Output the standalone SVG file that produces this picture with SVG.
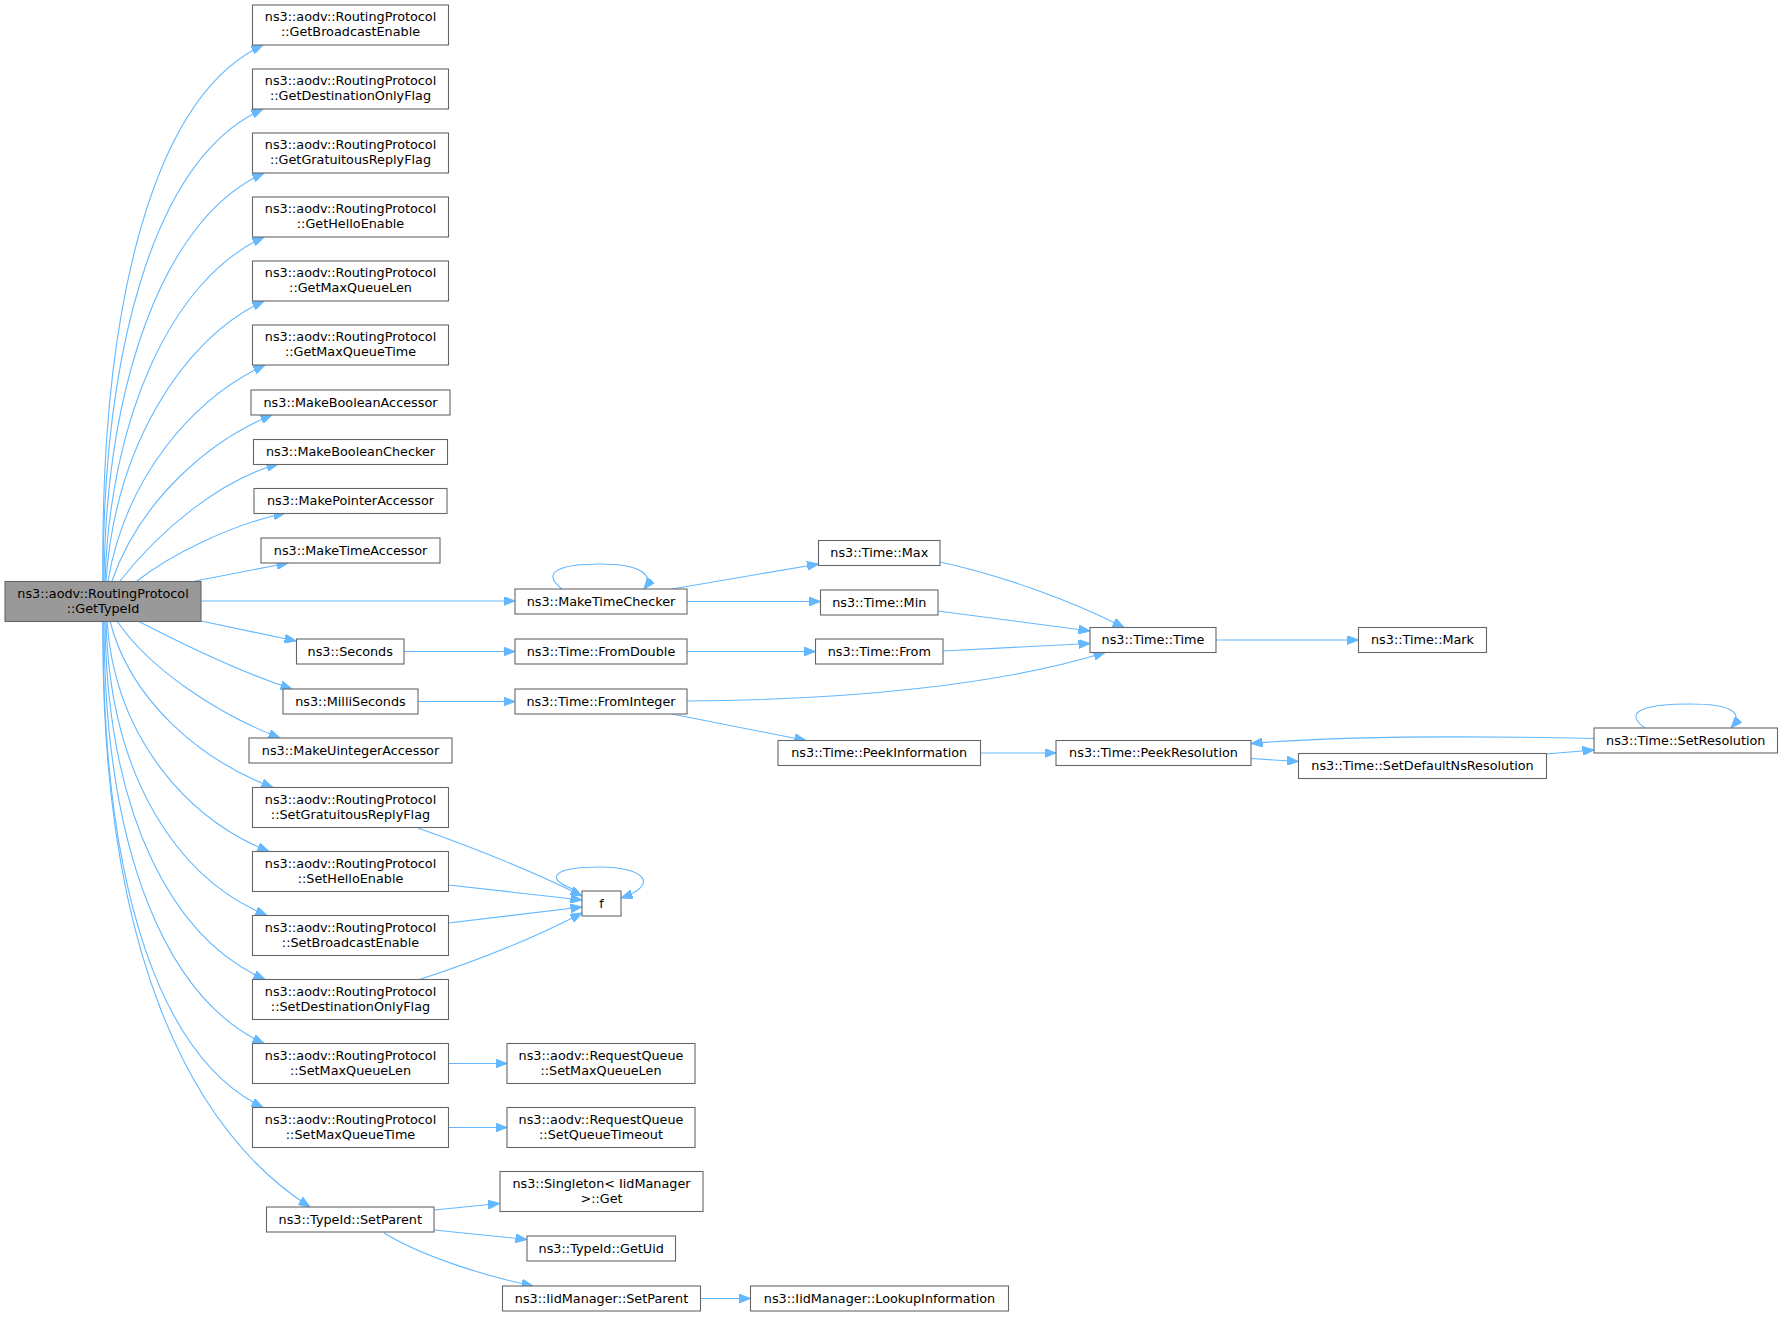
<svg xmlns="http://www.w3.org/2000/svg" width="1783" height="1317" viewBox="0 0 1783 1317">
<style>
.n rect{fill:#fff;stroke:#666;stroke-width:1.1}
.m rect{fill:#999;stroke:#666;stroke-width:1.1}
text{font-family:"DejaVu Sans","Liberation Sans",sans-serif;font-size:12.8px;text-anchor:middle;fill:#000}
#edges path{fill:none;stroke:#63b8ff;stroke-width:1.1;marker-end:url(#a)}
</style>
<defs>
<marker id="a" markerUnits="userSpaceOnUse" markerWidth="12" markerHeight="9" viewBox="0 0 12 9" refX="11.5" refY="4.5" orient="auto"><path d="M0,0 L11.5,4.5 L0,9 z" fill="#63b8ff" stroke="#63b8ff" stroke-width="1"/></marker>
</defs>
<rect width="1783" height="1317" fill="#fff"/>
<g id="edges">
<path d="M103,581 C100,330 145,100 263,45"/>
<path d="M103,581 C103,360 150,160 263,109"/>
<path d="M104,581 C106,390 160,220 264,173"/>
<path d="M105,581 C110,420 170,280 264,237"/>
<path d="M106,581 C115,450 180,340 264,301"/>
<path d="M108,581 C125,480 190,400 265,365"/>
<path d="M112,581 C140,500 210,440 272,415"/>
<path d="M120,581 C160,530 220,480 278,464"/>
<path d="M137,581 C170,555 230,525 285,513"/>
<path d="M195,581 L288,563"/>
<path d="M201,601 L515,601"/>
<path d="M201,621 L296,641"/>
<path d="M138,621 C190,648 240,672 292,689"/>
<path d="M117,621 C150,670 220,715 280,738"/>
<path d="M110,621 C130,700 200,760 273,787.5"/>
<path d="M107,621 C115,740 190,820 269,851.5"/>
<path d="M106,621 C110,780 180,880 267,915.5"/>
<path d="M105,621 C107,820 175,940 265,979.5"/>
<path d="M104,621 C104,860 170,1000 264,1043.5"/>
<path d="M103,621 C102,900 165,1060 263,1107.5"/>
<path d="M103,621 C100,950 190,1130 310,1207"/>
<path d="M404,651.5 L515,651.5"/>
<path d="M418,701.5 L515,701.5"/>
<path d="M562,589 C540,572 560,564 600,564 C640,564 655,575 644,589"/>
<path d="M672,589 L818.5,564"/>
<path d="M687,601.5 L820.5,601.5"/>
<path d="M687,651.5 L815.5,651.5"/>
<path d="M687,701 C850,700 1000,685 1105,652.5"/>
<path d="M672,714 L806,740.5"/>
<path d="M940,562 C1000,575 1070,600 1124,627.5"/>
<path d="M938,611 L1090,631"/>
<path d="M943,651 L1090,643.5"/>
<path d="M980.5,753 L1056,753"/>
<path d="M1216,640 L1358.5,640"/>
<path d="M1251,758.5 L1298.5,761.5"/>
<path d="M1546,754 L1594,750"/>
<path d="M1594,738.5 C1480,736 1340,736 1251,743.5"/>
<path d="M1645,728 C1620,710 1650,704 1690,704 C1730,704 1745,712 1731,728"/>
<path d="M418,828 C480,850 540,875 582,896"/>
<path d="M448.5,885 L582,900"/>
<path d="M448.5,923 L582,907"/>
<path d="M418,980 C480,960 540,935 582,913"/>
<path d="M578,891 C540,878 555,867 600,867 C645,867 660,885 621,898"/>
<path d="M448.5,1063.5 L507,1063.5"/>
<path d="M448.5,1127.5 L507,1127.5"/>
<path d="M434,1210 L499.5,1203.5"/>
<path d="M434,1230 L527,1239.5"/>
<path d="M384,1233 C420,1255 480,1275 533,1286"/>
<path d="M700.5,1298.5 L750.5,1298.5"/>
</g>
<g id="n0" class="m"><rect x="5" y="581.5" width="196" height="40"/><text x="103" y="597.5">ns3::aodv::RoutingProtocol</text><text x="103" y="612.5">::GetTypeId</text></g>
<g id="n1" class="n"><rect x="252.5" y="5" width="196" height="40"/><text x="350.5" y="21">ns3::aodv::RoutingProtocol</text><text x="350.5" y="36">::GetBroadcastEnable</text></g>
<g id="n2" class="n"><rect x="252.5" y="69" width="196" height="40"/><text x="350.5" y="85">ns3::aodv::RoutingProtocol</text><text x="350.5" y="100">::GetDestinationOnlyFlag</text></g>
<g id="n3" class="n"><rect x="252.5" y="133" width="196" height="40"/><text x="350.5" y="149">ns3::aodv::RoutingProtocol</text><text x="350.5" y="164">::GetGratuitousReplyFlag</text></g>
<g id="n4" class="n"><rect x="252.5" y="197" width="196" height="40"/><text x="350.5" y="213">ns3::aodv::RoutingProtocol</text><text x="350.5" y="228">::GetHelloEnable</text></g>
<g id="n5" class="n"><rect x="252.5" y="261" width="196" height="40"/><text x="350.5" y="277">ns3::aodv::RoutingProtocol</text><text x="350.5" y="292">::GetMaxQueueLen</text></g>
<g id="n6" class="n"><rect x="252.5" y="325" width="196" height="40"/><text x="350.5" y="341">ns3::aodv::RoutingProtocol</text><text x="350.5" y="356">::GetMaxQueueTime</text></g>
<g id="n7" class="n"><rect x="251" y="390" width="199" height="25"/><text x="350.5" y="406.5">ns3::MakeBooleanAccessor</text></g>
<g id="n8" class="n"><rect x="253.5" y="439.5" width="194" height="25"/><text x="350.5" y="456">ns3::MakeBooleanChecker</text></g>
<g id="n9" class="n"><rect x="254" y="488.5" width="193" height="25"/><text x="350.5" y="505">ns3::MakePointerAccessor</text></g>
<g id="n10" class="n"><rect x="261" y="538" width="179" height="25"/><text x="350.5" y="554.5">ns3::MakeTimeAccessor</text></g>
<g id="n11" class="n"><rect x="296.5" y="639" width="107.5" height="25"/><text x="350.25" y="655.5">ns3::Seconds</text></g>
<g id="n12" class="n"><rect x="283" y="689" width="135" height="25"/><text x="350.5" y="705.5">ns3::MilliSeconds</text></g>
<g id="n13" class="n"><rect x="249" y="738" width="203" height="25"/><text x="350.5" y="754.5">ns3::MakeUintegerAccessor</text></g>
<g id="n14" class="n"><rect x="252.5" y="787.5" width="196" height="40"/><text x="350.5" y="803.5">ns3::aodv::RoutingProtocol</text><text x="350.5" y="818.5">::SetGratuitousReplyFlag</text></g>
<g id="n15" class="n"><rect x="252.5" y="851.5" width="196" height="40"/><text x="350.5" y="867.5">ns3::aodv::RoutingProtocol</text><text x="350.5" y="882.5">::SetHelloEnable</text></g>
<g id="n16" class="n"><rect x="252.5" y="915.5" width="196" height="40"/><text x="350.5" y="931.5">ns3::aodv::RoutingProtocol</text><text x="350.5" y="946.5">::SetBroadcastEnable</text></g>
<g id="n17" class="n"><rect x="252.5" y="979.5" width="196" height="40"/><text x="350.5" y="995.5">ns3::aodv::RoutingProtocol</text><text x="350.5" y="1010.5">::SetDestinationOnlyFlag</text></g>
<g id="n18" class="n"><rect x="252.5" y="1043.5" width="196" height="40"/><text x="350.5" y="1059.5">ns3::aodv::RoutingProtocol</text><text x="350.5" y="1074.5">::SetMaxQueueLen</text></g>
<g id="n19" class="n"><rect x="252.5" y="1107.5" width="196" height="40"/><text x="350.5" y="1123.5">ns3::aodv::RoutingProtocol</text><text x="350.5" y="1138.5">::SetMaxQueueTime</text></g>
<g id="n20" class="n"><rect x="266.5" y="1207" width="167.5" height="25"/><text x="350.25" y="1223.5">ns3::TypeId::SetParent</text></g>
<g id="n21" class="n"><rect x="515" y="589" width="172" height="25"/><text x="601" y="605.5">ns3::MakeTimeChecker</text></g>
<g id="n22" class="n"><rect x="515" y="639" width="172" height="25"/><text x="601" y="655.5">ns3::Time::FromDouble</text></g>
<g id="n23" class="n"><rect x="515" y="689" width="172" height="25"/><text x="601" y="705.5">ns3::Time::FromInteger</text></g>
<g id="n24" class="n"><rect x="582" y="891" width="39" height="25"/><text x="601.5" y="907.5">f</text></g>
<g id="n25" class="n"><rect x="507" y="1043.5" width="188" height="40"/><text x="601" y="1059.5">ns3::aodv::RequestQueue</text><text x="601" y="1074.5">::SetMaxQueueLen</text></g>
<g id="n26" class="n"><rect x="507" y="1107.5" width="188" height="40"/><text x="601" y="1123.5">ns3::aodv::RequestQueue</text><text x="601" y="1138.5">::SetQueueTimeout</text></g>
<g id="n27" class="n"><rect x="500" y="1171.5" width="203" height="40"/><text x="601.5" y="1187.5">ns3::Singleton&lt; IidManager</text><text x="601.5" y="1202.5">&gt;::Get</text></g>
<g id="n28" class="n"><rect x="527" y="1236" width="148.5" height="25"/><text x="601.25" y="1252.5">ns3::TypeId::GetUid</text></g>
<g id="n29" class="n"><rect x="502.5" y="1286" width="198" height="25"/><text x="601.5" y="1302.5">ns3::IidManager::SetParent</text></g>
<g id="n30" class="n"><rect x="818.5" y="540.5" width="121.5" height="25"/><text x="879.25" y="557">ns3::Time::Max</text></g>
<g id="n31" class="n"><rect x="820.5" y="590" width="117.5" height="25"/><text x="879.25" y="606.5">ns3::Time::Min</text></g>
<g id="n32" class="n"><rect x="815.5" y="639" width="127.5" height="25"/><text x="879.25" y="655.5">ns3::Time::From</text></g>
<g id="n33" class="n"><rect x="778" y="740.5" width="202.5" height="25"/><text x="879.25" y="757">ns3::Time::PeekInformation</text></g>
<g id="n34" class="n"><rect x="750.5" y="1286" width="258" height="25"/><text x="879.5" y="1302.5">ns3::IidManager::LookupInformation</text></g>
<g id="n35" class="n"><rect x="1090" y="627.5" width="126" height="25"/><text x="1153" y="644">ns3::Time::Time</text></g>
<g id="n36" class="n"><rect x="1056" y="740.5" width="195" height="25"/><text x="1153.5" y="757">ns3::Time::PeekResolution</text></g>
<g id="n37" class="n"><rect x="1298.5" y="753.5" width="248" height="25"/><text x="1422.5" y="770">ns3::Time::SetDefaultNsResolution</text></g>
<g id="n38" class="n"><rect x="1358.5" y="627.5" width="128" height="25"/><text x="1422.5" y="644">ns3::Time::Mark</text></g>
<g id="n39" class="n"><rect x="1594" y="728" width="183.5" height="25"/><text x="1685.75" y="744.5">ns3::Time::SetResolution</text></g>
</svg>
